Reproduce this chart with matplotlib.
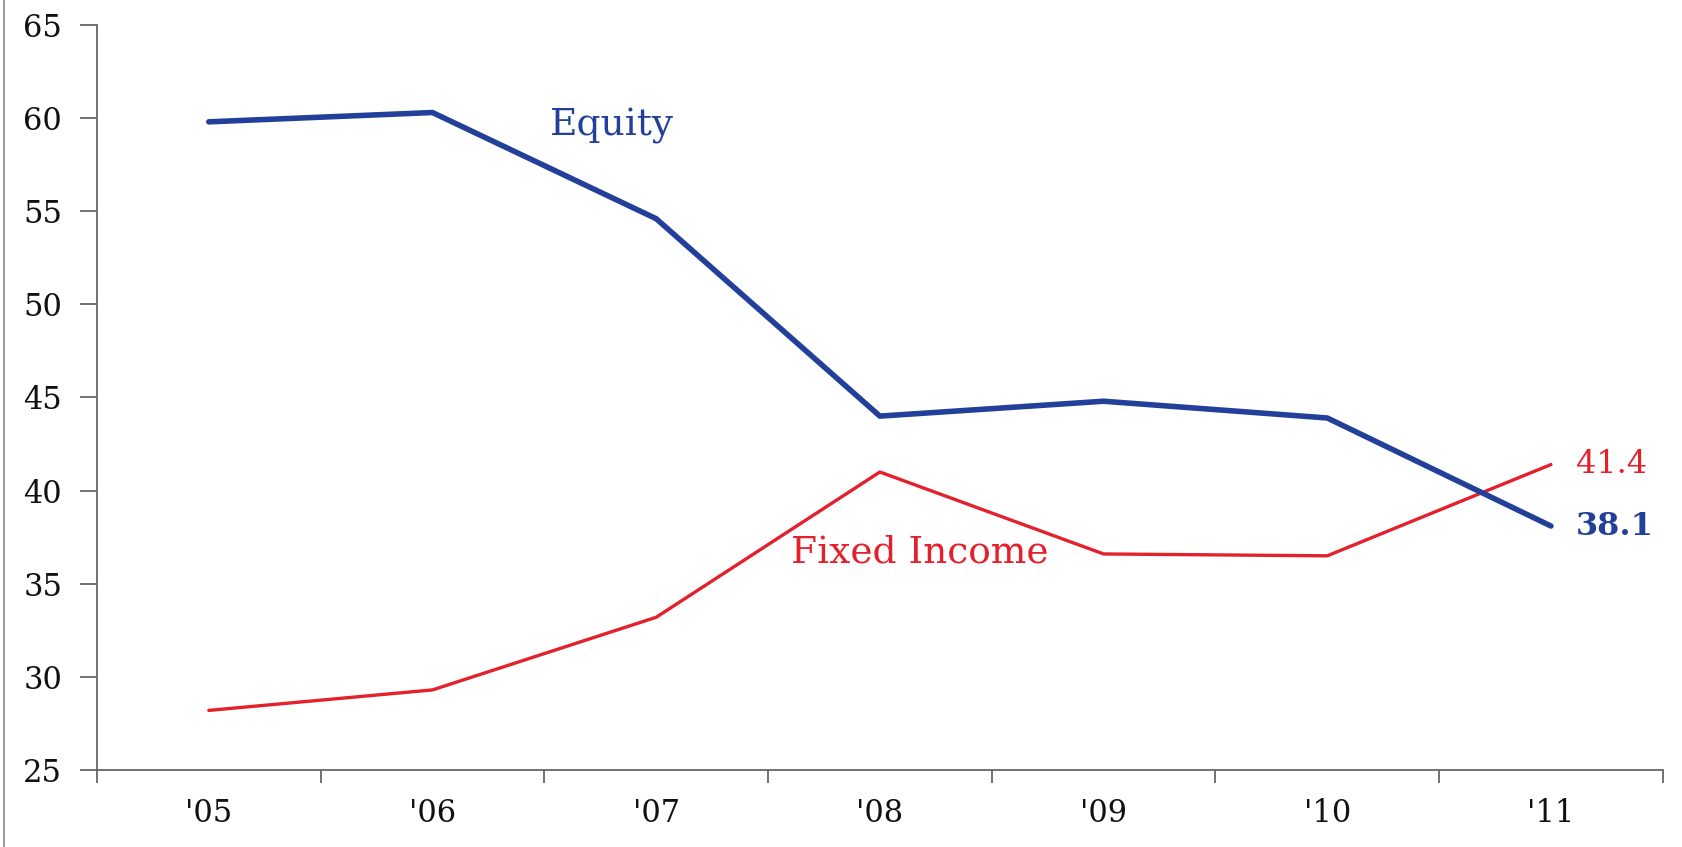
import matplotlib
matplotlib.use('Agg')
import matplotlib.pyplot as plt
from matplotlib.lines import Line2D

# --- data ---
years = ["'05", "'06", "'07", "'08", "'09", "'10", "'11"]
equity = [59.8, 60.3, 54.6, 44.0, 44.8, 43.9, 38.1]
fixed_income = [28.2, 29.3, 33.2, 41.0, 36.6, 36.5, 41.4]

blue = '#22409a'
red = '#e3202b'
axis_gray = '#666666'

plt.rcParams['font.family'] = ['DejaVu Serif']

fig = plt.figure(figsize=(16.83, 8.47), dpi=100, facecolor='white')
ax = fig.add_axes([0.0576, 0.0909, 0.9304, 0.8796])

x = list(range(len(years)))
ax.plot(x, equity, color=blue, lw=4.0, solid_capstyle='round', zorder=3)
ax.plot(x, fixed_income, color=red, lw=2.4, solid_capstyle='round', zorder=2)

ax.set_xlim(-0.5, len(years) - 0.5)
ax.set_ylim(25, 65)
ax.set_yticks(range(25, 66, 5))

# category labels at centres, tick marks at the boundaries
ax.set_xticks(x)
ax.set_xticklabels(years)
ax.set_xticks([i - 0.5 for i in range(len(years) + 1)], minor=True)
ax.tick_params(axis='x', which='major', length=0, pad=20, labelsize=22, colors='#111111')
ax.tick_params(axis='x', which='minor', length=9, width=1.3, color=axis_gray, direction='out')
ax.tick_params(axis='y', length=12, width=1.3, color=axis_gray, pad=13, labelsize=22,
               labelcolor='#111111', direction='out')

for s in ['top', 'right']:
    ax.spines[s].set_visible(False)
for s in ['left', 'bottom']:
    ax.spines[s].set_color(axis_gray)
    ax.spines[s].set_linewidth(1.3)

# series labels
ax.text(1.80, 59.6, 'Equity', color=blue, fontsize=27, ha='center', va='center')
ax.text(3.18, 36.7, 'Fixed Income', color=red, fontsize=27, ha='center', va='center')
ax.text(6.11, fixed_income[-1], f'{fixed_income[-1]}', color=red, fontsize=23,
        ha='left', va='center')
ax.text(6.11, equity[-1], f'{equity[-1]}', color=blue, fontsize=23, fontweight='bold',
        ha='left', va='center')

# scan border on the left edge
fig.add_artist(Line2D([0.0025, 0.0025], [0, 1], transform=fig.transFigure,
                      color='#888888', lw=1.2))

plt.savefig('out.png', dpi=100, facecolor='white')
